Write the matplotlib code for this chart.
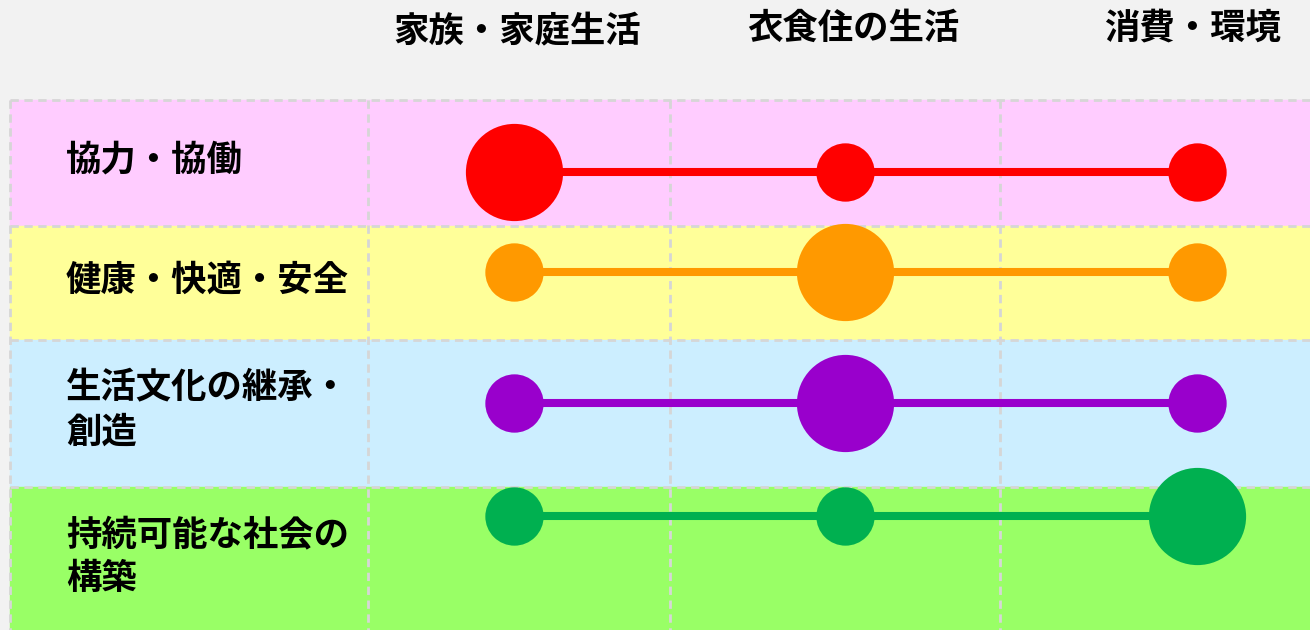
import matplotlib.pyplot as plt
from matplotlib.patches import Rectangle

plt.rcParams['font.family'] = ['Noto Sans CJK JP', 'DejaVu Sans']

# data
columns = ['家族・家庭生活', '衣食住の生活', '消費・環境']
rows = ['協力・協働', '健康・快適・安全', '生活文化の継承・\n創造', '持続可能な社会の\n構築']
weight = [
    [3, 1, 1],
    [1, 3, 1],
    [1, 3, 1],
    [1, 1, 3],
]
dot_colors = ['#ff0000', '#ff9900', '#9900cc', '#00b050']
row_colors = ['#ffccff', '#ffff99', '#cceeff', '#99ff66']

# layout (pixels)
W, H = 1310, 630
row_edges = [100, 226, 340, 487, 630]
col_edges = [10, 368, 670, 1000, 1310]
line_y = [172, 272, 403, 516]
dot_x = [514, 845, 1197]
head_x = [517, 853, 1192]
head_y = [32, 28, 28]
label_y = [160, 280, 410, 557]

fig = plt.figure(figsize=(W / 100, H / 100), dpi=100)
fig.patch.set_facecolor('#f2f2f2')
ax = fig.add_axes([0, 0, 1, 1])
ax.set_xlim(0, W)
ax.set_ylim(H, 0)
ax.axis('off')

for i, c in enumerate(row_colors):
    ax.add_patch(Rectangle((col_edges[0], row_edges[i]), W - col_edges[0],
                           row_edges[i + 1] - row_edges[i], color=c, zorder=0))

for y in row_edges[:-1]:
    ax.plot([col_edges[0], W], [y, y], ls=(0, (3, 2)), color='#d6d6d6', lw=2, zorder=1)
for x in col_edges[:-1]:
    ax.plot([x, x], [row_edges[0], H], ls=(0, (3, 2)), color='#d6d6d6', lw=2, zorder=1)

for j, name in enumerate(columns):
    ax.text(head_x[j], head_y[j], name, ha='center', va='center',
            fontsize=25.5, fontweight='bold', color='black')

for i, name in enumerate(rows):
    ax.text(66, label_y[i], name, ha='left', va='center', fontsize=25.5,
            fontweight='bold', color='black', linespacing=1.3)
    ax.plot([dot_x[0], dot_x[-1]], [line_y[i], line_y[i]], color=dot_colors[i],
            lw=5.8, solid_capstyle='butt', zorder=2)
    for j, w in enumerate(weight[i]):
        ms = 70 if w == 3 else 42
        ax.plot(dot_x[j], line_y[i], 'o', ms=ms, color=dot_colors[i],
                mec='none', zorder=3)

fig.savefig('out.png', dpi=100, facecolor=fig.get_facecolor())
